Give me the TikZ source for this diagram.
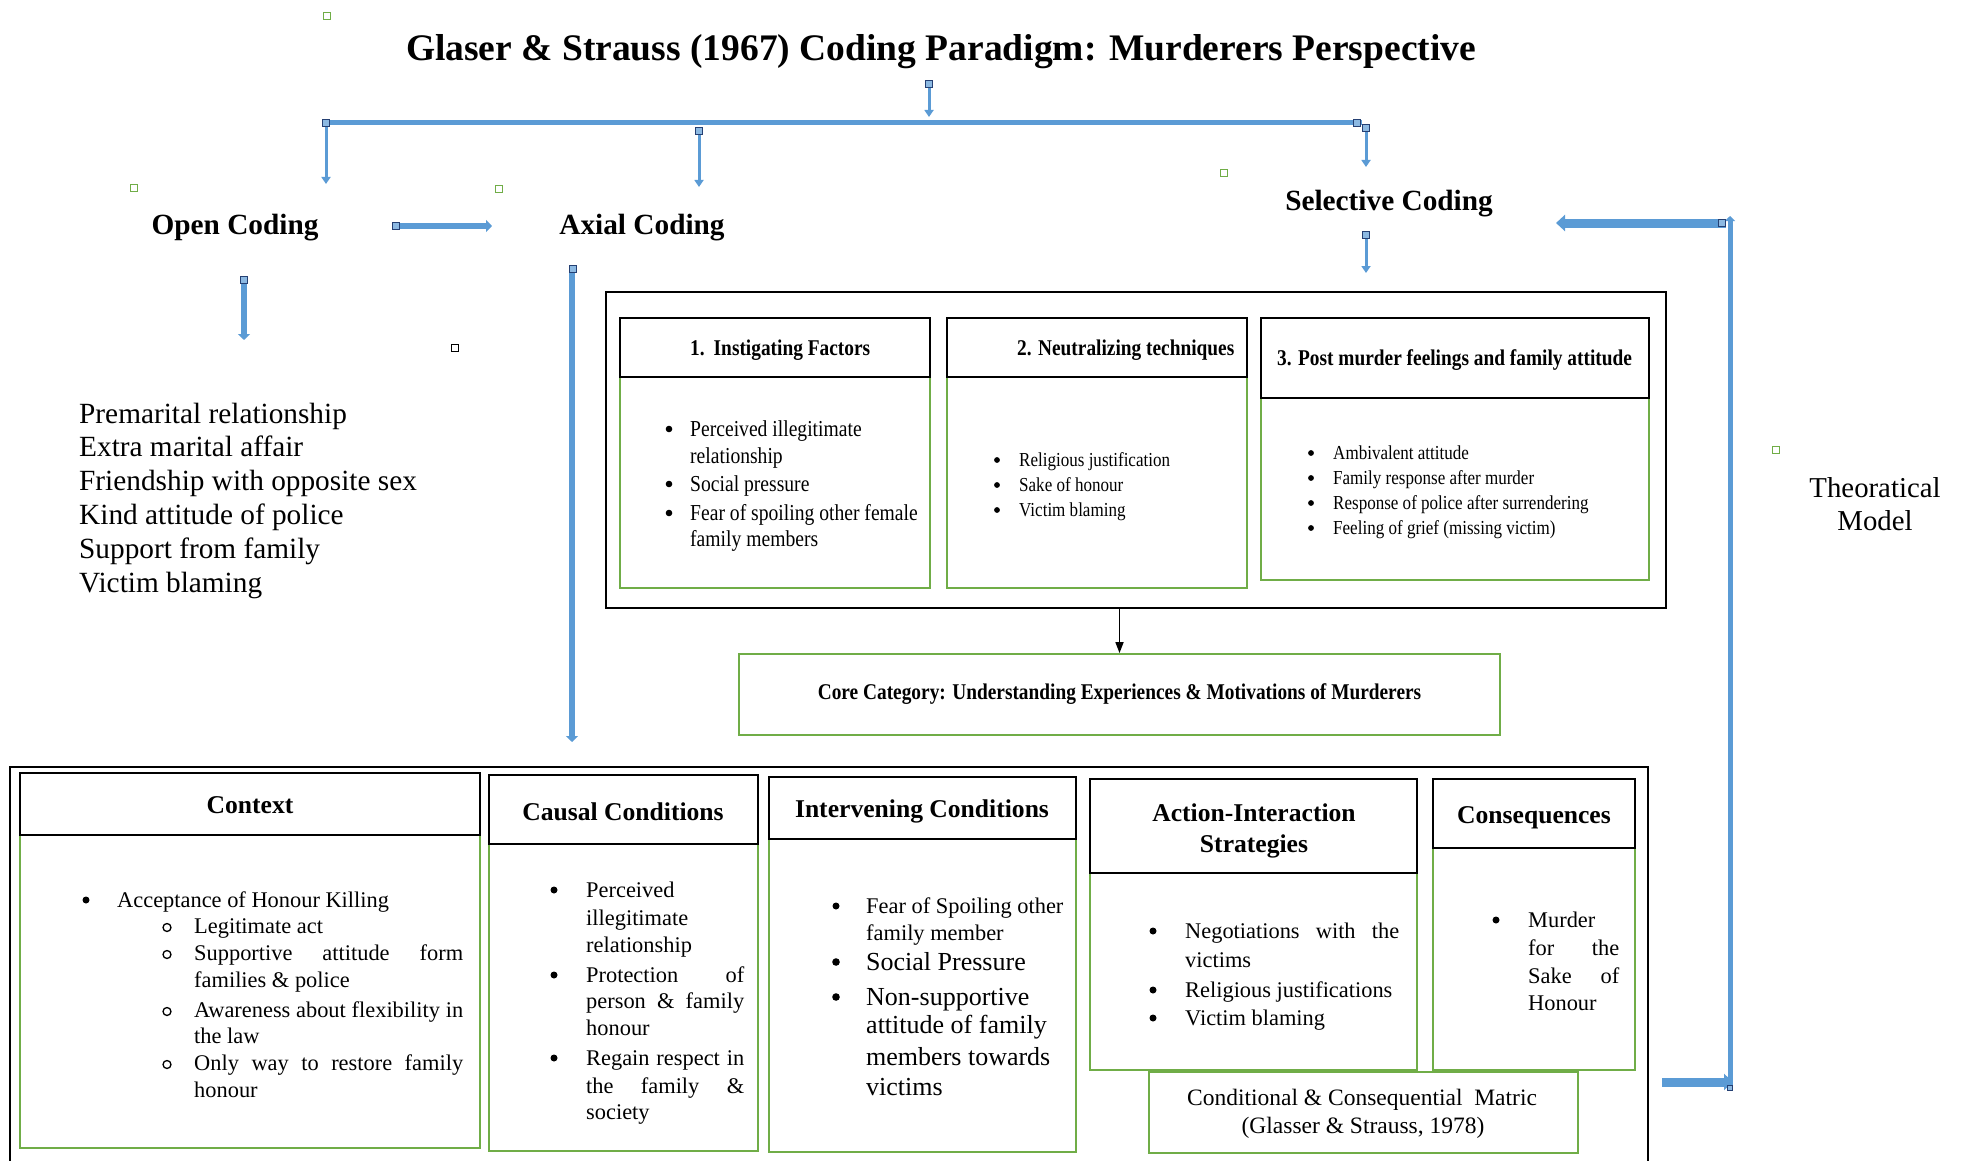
\documentclass[tikz,border=0pt]{standalone}
\usepackage{fontspec}
\setmainfont{Liberation Serif}
\newfontfamily\condserif[FakeStretch=0.86]{Liberation Serif}
\usetikzlibrary{arrows.meta}
\definecolor{arrowblue}{RGB}{91,155,213}
\definecolor{handleblue}{RGB}{37,64,115}
\definecolor{boxgreen}{RGB}{112,173,71}
\begin{document}
\begin{tikzpicture}[x=1pt,y=-1pt,
  txt/.style={inner sep=0pt, anchor=base west},
  ctxt/.style={inner sep=0pt, anchor=base},
  titlefont/.style={font=\bfseries\fontsize{37.5}{44}\selectfont},
  codingfont/.style={font=\bfseries\fontsize{29.3}{35}\selectfont},
  listfont/.style={font=\fontsize{29.3}{34}\selectfont},
  modelfont/.style={font=\fontsize{28.8}{33}\selectfont},
  tophdr/.style={font=\condserif\bfseries\fontsize{22.5}{27}\selectfont},
  topbodyA/.style={font=\condserif\fontsize{22.8}{27}\selectfont},
  topbodyB/.style={font=\condserif\fontsize{19.8}{24}\selectfont},
  corefont/.style={font=\condserif\bfseries\fontsize{22.5}{27}\selectfont},
  bothdr/.style={font=\bfseries\fontsize{25.6}{31}\selectfont},
  botbody/.style={font=\fontsize{22.4}{27}\selectfont},
  botbig/.style={font=\fontsize{26}{31}\selectfont},
  hdrbox/.style={draw=black, line width=2pt},
  greenbox/.style={draw=boxgreen, line width=1.8pt},
  outerline/.style={draw=black, line width=2.6pt},
  barline/.style={draw=arrowblue, line width=5pt},
  thinarrow/.style={draw=arrowblue, line width=3pt, -{Triangle[length=7pt,width=9pt]}},
  midarrow/.style={draw=arrowblue, line width=5.5pt, -{Triangle[length=6pt,width=12pt]}},
  widearrow/.style={draw=arrowblue, line width=9pt, -{Triangle[length=9pt,width=16pt]}},
  handle/.style={draw=handleblue, fill=arrowblue!70, line width=1.6pt, minimum size=7pt, inner sep=0pt},
  greenmark/.style={draw=boxgreen, fill=white, line width=1.6pt, minimum size=7pt, inner sep=0pt},
  blackmark/.style={draw=black, fill=white, line width=1.6pt, minimum size=7pt, inner sep=0pt}
]
\useasboundingbox (0,0) rectangle (1964,1161);

% ---------- title and the three coding stages ----------
\node[titlefont, ctxt] (title) at (941,61) {Glaser \& Strauss (1967) Coding Paradigm: Murderers Perspective};
\node[codingfont, ctxt] (open) at (235,234) {Open Coding};
\node[codingfont, ctxt] (axial) at (642,234) {Axial Coding};
\node[codingfont, ctxt] (selective) at (1389,211) {Selective Coding};

% connector end points
\coordinate (tA) at (929,84);   \coordinate (tB) at (929,117);
\coordinate (barL) at (326,123); \coordinate (barR) at (1362,123);
\coordinate (ocA) at (326,123);  \coordinate (ocB) at (326,184);
\coordinate (acA) at (699,129);  \coordinate (acB) at (699,187);
\coordinate (scA) at (1366,124); \coordinate (scB) at (1366,167);
\coordinate (oaA) at (396,226);  \coordinate (oaB) at (492,226);
\coordinate (odA) at (244,278);  \coordinate (odB) at (244,340);
\coordinate (adA) at (572,267);  \coordinate (adB) at (572,742);
\coordinate (sdA) at (1366,232); \coordinate (sdB) at (1366,273);
\coordinate (lpA) at (1662,1082); \coordinate (lpB) at (1733,1082);
\coordinate (lpC) at (1730,1090); \coordinate (lpD) at (1730,216);
\coordinate (lpE) at (1726,223); \coordinate (lpF) at (1556,223);

\draw[thinarrow] (tA) -- (tB);
\draw[barline] (barL) -- (barR);
\draw[thinarrow] (ocA) -- (ocB);
\draw[thinarrow] (acA) -- (acB);
\draw[thinarrow] (scA) -- (scB);
\draw[midarrow] (oaA) -- (oaB);
\draw[midarrow] (odA) -- (odB);
\draw[midarrow] (adA) -- (adB);
\draw[thinarrow] (sdA) -- (sdB);
% feedback loop to selective coding
\draw[widearrow] (lpA) -- (lpB);
\draw[draw=arrowblue, line width=5pt, -{Triangle[length=5pt,width=10pt]}] (lpC) -- (lpD);
\draw[widearrow] (lpE) -- (lpF);

% handles and anchors
\node[handle] (h1) at (tA) {};
\node[handle] (h2) at (barL) {};
\node[handle] (h3) at (1357,123) {};
\node[handle] (h4) at (1366,128) {};
\node[handle] (h5) at (699,131) {};
\node[handle] (h6) at (oaA) {};
\node[handle] (h7) at (244,280) {};
\node[handle] (h8) at (573,269) {};
\node[handle] (h9) at (1366,235) {};
\node[handle] (h10) at (1722,223) {};
\node[handle, minimum size=5pt] (h11) at (1730,1088) {};
\node[greenmark] (g1) at (327,16) {};
\node[greenmark] (g2) at (134,188) {};
\node[greenmark] (g3) at (499,189) {};
\node[greenmark] (g4) at (1224,173) {};
\node[greenmark] (g5) at (1776,450) {};
\node[blackmark] (k1) at (455,348) {};

% ---------- open coding list ----------
\foreach \t [count=\i] in {Premarital relationship, Extra marital affair, Friendship with opposite sex, Kind attitude of police, Support from family, Victim blaming}
  \node[listfont, txt] (ol\i) at (79,{423+33.8*(\i-1)}) {\t};

% ---------- theoretical model label ----------
\node[modelfont, ctxt] (tm1) at (1875,497) {Theoratical};
\node[modelfont, ctxt] (tm2) at (1875,530) {Model};

% ---------- axial coding box ----------
\node[outerline, draw, minimum width=1060pt, minimum height=316pt, inner sep=0pt] (axialbox) at (1136,450) {};

\draw[greenbox] (620,377) rectangle (930,588);
\draw[hdrbox] (620,318) rectangle (930,377);
\draw[greenbox] (947,377) rectangle (1247,588);
\draw[hdrbox] (947,318) rectangle (1247,377);
\draw[greenbox] (1261,398) rectangle (1649,580);
\draw[hdrbox] (1261,318) rectangle (1649,398);

\node[tophdr, txt] (th1) at (690,355) {1.\hspace{9pt}Instigating Factors};
\node[tophdr, txt] (th2) at (1017,355) {2. Neutralizing techniques};
\node[tophdr, txt] (th3) at (1277,365) {3. Post murder feelings and family attitude};

% bullets of the three category boxes
\foreach \y in {436,491,520} \fill (669,\y-7) circle (3.3pt);
\node[topbodyA, txt] (a1) at (690,436) {Perceived illegitimate};
\node[topbodyA, txt] (a2) at (690,463) {relationship};
\node[topbodyA, txt] (a3) at (690,491) {Social pressure};
\node[topbodyA, txt] (a4) at (690,520) {Fear of spoiling other female};
\node[topbodyA, txt] (a5) at (690,546) {family members};

\foreach \t [count=\i] in {Religious justification, Sake of honour, Victim blaming}{
  \fill (997,{466+25*(\i-1)-6}) circle (2.9pt);
  \node[topbodyB, txt] (b\i) at (1019,{466+25*(\i-1)}) {\t};
}
\foreach \t [count=\i] in {Ambivalent attitude, Family response after murder, Response of police after surrendering, Feeling of grief (missing victim)}{
  \fill (1311,{459+25*(\i-1)-6}) circle (2.9pt);
  \node[topbodyB, txt] (c\i) at (1333,{459+25*(\i-1)}) {\t};
}

% ---------- core category ----------
\node[greenbox, draw, minimum width=761pt, minimum height=81pt, inner sep=0pt, corefont] (core) at (1119.5,694.5)
  {Core Category: Understanding Experiences \& Motivations of Murderers};
\draw[black, line width=1.6pt, -{Triangle[length=11pt,width=8pt]}] (axialbox.south -| core.north) -- (core.north);

% ---------- conditional / consequential matrix ----------
\draw[outerline] (10,1161) -- (10,767) -- (1648,767) -- (1648,1161);

\draw[greenbox] (20,835) rectangle (480,1148);
\draw[hdrbox] (20,773) rectangle (480,835);
\draw[greenbox] (489,844) rectangle (758,1151);
\draw[hdrbox] (489,775) rectangle (758,844);
\draw[greenbox] (769,839) rectangle (1076,1152);
\draw[hdrbox] (769,777) rectangle (1076,839);
\draw[greenbox] (1090,873) rectangle (1417,1070);
\draw[hdrbox] (1090,779) rectangle (1417,873);
\draw[greenbox] (1433,848) rectangle (1635,1070);
\draw[hdrbox] (1433,779) rectangle (1635,848);
\draw[greenbox, fill=white] (1149,1072) rectangle (1578,1153);

\node[bothdr, ctxt] (hc1) at (250,813) {Context};
\node[bothdr, ctxt] (hc2) at (623,820) {Causal Conditions};
\node[bothdr, ctxt] (hc3) at (922,817) {Intervening Conditions};
\node[bothdr, ctxt] (hc4) at (1254,821) {Action-Interaction};
\node[bothdr, ctxt] (hc5) at (1254,852) {Strategies};
\node[bothdr, ctxt] (hc6) at (1534,823) {Consequences};

% context
\fill (86,907-7) circle (3.5pt);
\node[botbody, txt] (cx1) at (117,907) {Acceptance of Honour Killing};
\foreach \y in {933,960,1017,1070} \draw[line width=1.3pt] (167,\y-5.5) circle (4pt);
\node[botbody, txt] (cx2) at (194,933) {Legitimate act};
\node[botbody, txt] (cx3) at (194,960) {\makebox[269pt][s]{Supportive attitude form}};
\node[botbody, txt] (cx4) at (194,987) {families \& police};
\node[botbody, txt] (cx5) at (194,1017) {\makebox[269pt][s]{Awareness about flexibility in}};
\node[botbody, txt] (cx6) at (194,1043) {the law};
\node[botbody, txt] (cx7) at (194,1070) {\makebox[269pt][s]{Only way to restore family}};
\node[botbody, txt] (cx8) at (194,1097) {honour};

% causal conditions
\foreach \y in {897,982,1065} \fill (554,\y-7) circle (3.5pt);
\node[botbody, txt] (cc1) at (586,897) {Perceived};
\node[botbody, txt] (cc2) at (586,925) {illegitimate};
\node[botbody, txt] (cc3) at (586,952) {relationship};
\node[botbody, txt] (cc4) at (586,982) {\makebox[158pt][s]{Protection of}};
\node[botbody, txt] (cc5) at (586,1008) {\makebox[158pt][s]{person \& family}};
\node[botbody, txt] (cc6) at (586,1035) {honour};
\node[botbody, txt] (cc7) at (586,1065) {\makebox[158pt][s]{Regain respect in}};
\node[botbody, txt] (cc8) at (586,1093) {\makebox[158pt][s]{the family \&}};
\node[botbody, txt] (cc9) at (586,1119) {society};

% intervening conditions
\fill (836,913-7) circle (3.5pt);
\fill (836,970-8) circle (3.8pt);
\fill (836,1005-8) circle (3.8pt);
\node[botbody, txt] (ic1) at (866,913) {Fear of Spoiling other};
\node[botbody, txt] (ic2) at (866,940) {family member};
\node[botbig, txt] (ic3) at (866,970) {Social Pressure};
\node[botbig, txt] (ic4) at (866,1005) {Non-supportive};
\node[botbig, txt] (ic5) at (866,1033) {attitude of family};
\node[botbig, txt] (ic6) at (866,1065) {members towards};
\node[botbig, txt] (ic7) at (866,1095) {victims};

% action-interaction strategies
\foreach \y in {938,997,1025} \fill (1153,\y-7) circle (3.5pt);
\node[botbody, txt] (as1) at (1185,938) {\makebox[214pt][s]{Negotiations with the}};
\node[botbody, txt] (as2) at (1185,967) {victims};
\node[botbody, txt] (as3) at (1185,997) {Religious justifications};
\node[botbody, txt] (as4) at (1185,1025) {Victim blaming};

% consequences
\fill (1496,927-7) circle (3.5pt);
\node[botbody, txt] (cq1) at (1528,927) {Murder};
\node[botbody, txt] (cq2) at (1528,955) {\makebox[91pt][s]{for the}};
\node[botbody, txt] (cq3) at (1528,983) {\makebox[91pt][s]{Sake of}};
\node[botbody, txt] (cq4) at (1528,1010) {Honour};

% matrix caption
\node[botbody, font=\fontsize{23.5}{28}\selectfont, ctxt] (mx1) at (1362,1105) {Conditional \& Consequential\ \ Matric};
\node[botbody, font=\fontsize{23.5}{28}\selectfont, ctxt] (mx2) at (1363,1133) {(Glasser \& Strauss, 1978)};

\end{tikzpicture}
\end{document}
